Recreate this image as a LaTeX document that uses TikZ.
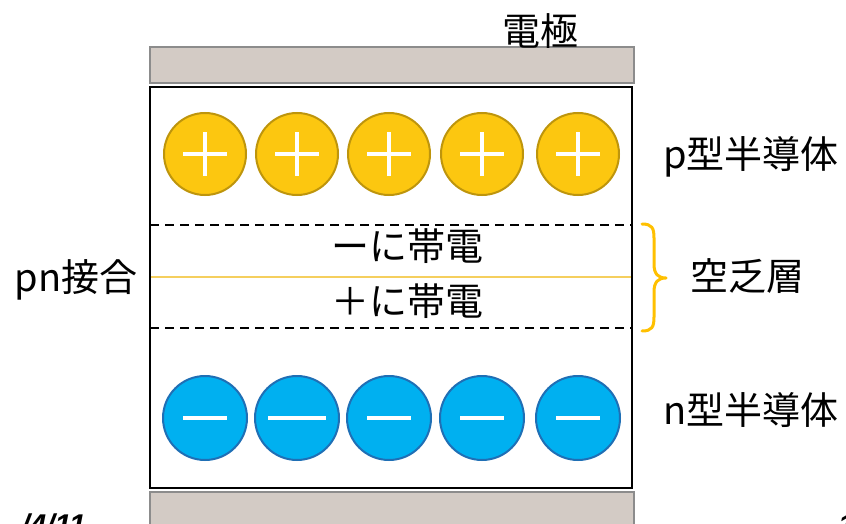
\documentclass[tikz,border=0pt]{standalone}
\usepackage{fontspec}
\setmainfont{Noto Sans CJK JP}
\newfontfamily\footfont{Liberation Sans}
\definecolor{elecfill}{HTML}{D3CBC5}
\definecolor{elecdraw}{HTML}{8C8C8C}
\definecolor{pfill}{HTML}{FCC710}
\definecolor{pdraw}{HTML}{BE950C}
\definecolor{nfill}{HTML}{00B0F0}
\definecolor{ndraw}{HTML}{1F6FB5}
\definecolor{junc}{HTML}{F5CF5E}
\definecolor{brace}{HTML}{FFC000}
\begin{document}
\begin{tikzpicture}[x=1pt,y=-1pt,
  electrode/.style={fill=elecfill,draw=elecdraw,line width=2pt},
  hole/.style={circle,minimum size=82pt,inner sep=0pt,fill=pfill,draw=pdraw,line width=2pt},
  elec/.style={circle,minimum size=84pt,inner sep=0pt,fill=nfill,draw=ndraw,line width=2pt},
  sign/.style={draw=white,line width=3.2pt},
  lbl/.style={font=\fontsize{38}{42}\selectfont,inner sep=0pt,text=black},
  dashline/.style={dashed,dash pattern=on 9pt off 6pt,line width=1.3pt}]
\useasboundingbox (0,0) rectangle (846,524);
\begin{scope}
\clip (0,0) rectangle (846,524);
% electrodes
\node[electrode,minimum width=484pt,minimum height=36pt,inner sep=0pt] (topel) at (392,65) {};
\node[electrode,minimum width=484pt,minimum height=60pt,inner sep=0pt,anchor=north] (botel) at (392,491) {};
% main box
\node[draw=black,line width=2.4pt,minimum width=482pt,minimum height=401pt,inner sep=0pt] (box) at (391,287.5) {};
% dashed lines
\coordinate (dl1) at (150,225); \coordinate (dr1) at (632,225);
\coordinate (dl2) at (150,328); \coordinate (dr2) at (632,328);
\draw[dashline] (dl1) -- (dr1);
\draw[dashline] (dl2) -- (dr2);
% junction line
\coordinate (jl) at (151,277); \coordinate (jr) at (631,277);
\draw[junc,line width=1.5pt] (jl) -- (jr);
% holes
\foreach \i/\x in {1/205,2/297,3/389,4/482,5/578}{
  \node[hole] (h\i) at (\x,154) {};
  \draw[sign] ([xshift=-22pt]h\i.center) -- ([xshift=22pt]h\i.center);
  \draw[sign] ([yshift=-22pt]h\i.center) -- ([yshift=22pt]h\i.center);
}
% electrons
\foreach \i/\x/\w in {1/205/22,2/297/29,3/389/22,4/482/22,5/578/22}{
  \node[elec] (e\i) at (\x,418) {};
  \draw[draw=white,line width=4.5pt] ([xshift=-\w pt]e\i.center) -- ([xshift=\w pt]e\i.center);
}
% brace
\coordinate (bt) at (642,224);
\coordinate (bb) at (642,331);
\coordinate (btip) at (666,278);
\draw[brace,line width=3pt,line cap=round,line join=round]
  (bt) .. controls (652,224) and (654,228) .. (654,238)
  -- (654,264) .. controls (654,274) and (658,278) .. (btip)
  .. controls (658,278) and (654,282) .. (654,292)
  -- (654,317) .. controls (654,327) and (652,331) .. (bb);
% labels
\node[lbl] (t1) at (540,31) {電極};
\node[lbl] (t2) at (751,157) {p型半導体};
\node[lbl] (t3) at (747,276) {空乏層};
\node[lbl] (t4) at (751,410) {n型半導体};
\node[lbl] (t5) at (76,280) {pn接合};
\node[lbl] (t6) at (407,246) {ーに帯電};
\node[lbl] (t7) at (407,301) {＋に帯電};
% footer fragments (cut off by the page edge, as in the reference)
\node[font=\footfont\bfseries\itshape\fontsize{30}{34}\selectfont,anchor=base east,inner sep=0pt] (foot) at (86,535) {/4/11};
\node[font=\footfont\bfseries\itshape\fontsize{30}{34}\selectfont,anchor=base west,inner sep=0pt] (pg) at (838,535) {1};
\end{scope}
\end{tikzpicture}
\end{document}
